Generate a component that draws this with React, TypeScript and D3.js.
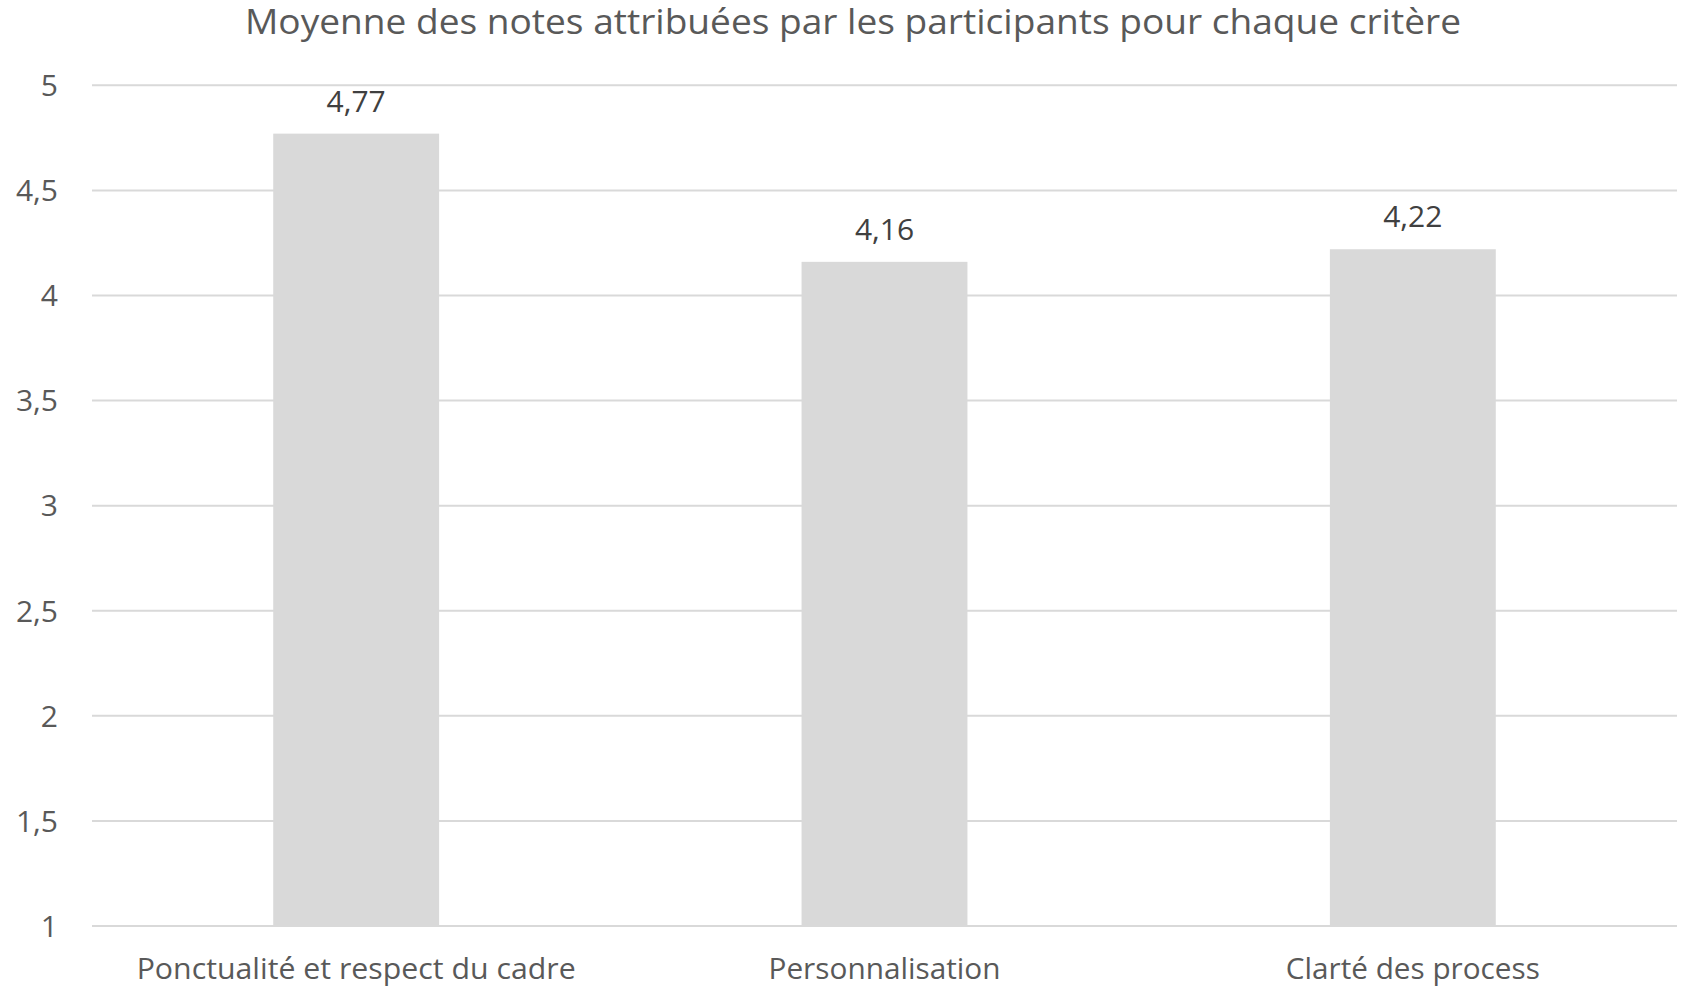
import React from "react";
import * as d3 from "d3";

const title = "Moyenne des notes attribuées par les participants pour chaque critère";
const categories = ["Ponctualité et respect du cadre", "Personnalisation", "Clarté des process"];
const values = [4.77, 4.16, 4.22];
const yTicks = [1, 1.5, 2, 2.5, 3, 3.5, 4, 4.5, 5];
const categoryLabelWidths = [439, 232, 254];

const W = 1682;
const H = 990;
const FONT = "'Open Sans', 'Noto Sans', sans-serif";

export default function App() {
  const x = d3.scaleBand<string>().domain(categories).range([92, 1677]).padding(0);
  const y = d3.scaleLinear().domain([1, 5]).range([926, 85.3]);
  const barW = x.bandwidth() * 0.314;
  const fmt = (v: number) => d3.format("")(v).replace(".", ",");

  return (
    <svg width={W} height={H} style={{ position: "absolute", left: 0, top: 0, background: "#fff" }} fontFamily={FONT}>
      <rect x={0} y={0} width={W} height={H} fill="#fff" />
      <text x={853} y={34} textAnchor="middle" fontSize={34} fill="#595959" textLength={1216} lengthAdjust="spacingAndGlyphs">
        {title}
      </text>
      {yTicks.map((t) => (
        <g key={t}>
          <line x1={92} x2={1677} y1={y(t)} y2={y(t)} stroke="#d9d9d9" strokeWidth={2} />
          <text x={58} y={y(t)} dy="0.36em" textAnchor="end" fontSize={30} fill="#595959">
            {fmt(t)}
          </text>
        </g>
      ))}
      {categories.map((c, i) => {
        const cx = (x(c) as number) + x.bandwidth() / 2;
        return (
          <g key={c}>
            <rect x={cx - barW / 2} y={y(values[i])} width={barW} height={y(1) - y(values[i])} fill="#d9d9d9" />
            <text x={cx} y={y(values[i]) - 22} textAnchor="middle" fontSize={30} fill="#404040">
              {fmt(values[i])}
            </text>
            <text x={cx} y={979} textAnchor="middle" fontSize={29} fill="#595959" textLength={categoryLabelWidths[i]} lengthAdjust="spacingAndGlyphs">
              {c}
            </text>
          </g>
        );
      })}
    </svg>
  );
}
